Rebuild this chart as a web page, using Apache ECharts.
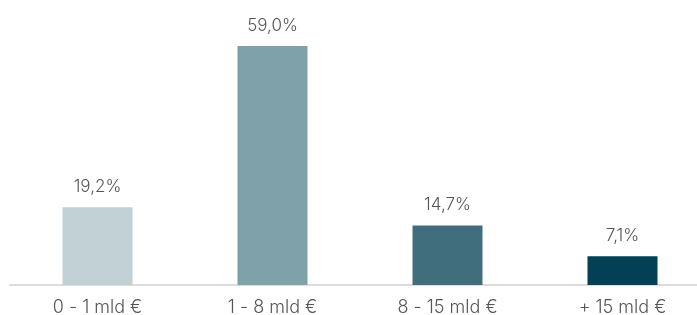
<!DOCTYPE html>
<html lang="en">
<head>
    <meta charset="UTF-8">
    <title>Chart</title>
</head>
<body style="margin:0">
<div class="main" style="width: 697px;height:315px;"></div>
</body>
<script src="https://cdn.jsdelivr.net/npm/echarts@6/dist/echarts.min.js"></script>
<script>
    // dati
    var categories = ['0 - 1 mld €', '1 - 8 mld €', '8 - 15 mld €', '+ 15 mld €'];
    var values = [19.2, 59.0, 14.7, 7.1];
    var barColors = ['#c0d0d5', '#7fa1a9', '#416e7d', '#033f55'];

    var main = document.getElementsByClassName('main')[0];
    var myChart = echarts.init(main);

    var option = {
        animation: false,
        grid: {
            left: 10,
            right: -13,
            top: 42,
            bottom: 30,
            outerBoundsMode: 'none'
        },
        xAxis: {
            type: 'category',
            data: categories,
            axisTick: {show: false},
            axisLine: {lineStyle: {color: '#dcdcdc', width: 2}},
            axisLabel: {
                color: '#555',
                fontSize: 18,
                fontWeight: 300,
                fontFamily: 'Inter',
                margin: 14
            }
        },
        yAxis: {
            type: 'value',
            min: 0,
            max: 60,
            show: false,
            splitLine: {show: false}
        },
        series: [{
            type: 'bar',
            barWidth: 70,
            data: values.map(function (v, i) {
                return {value: v, itemStyle: {color: barColors[i]}};
            }),
            label: {
                show: true,
                position: 'top',
                distance: 12,
                color: '#555',
                fontSize: 17,
                fontWeight: 300,
                fontFamily: 'Inter',
                formatter: function (p) {
                    return p.value.toFixed(1).replace('.', ',') + '%';
                }
            }
        }]
    };

    myChart.setOption(option);
</script>
</html>
